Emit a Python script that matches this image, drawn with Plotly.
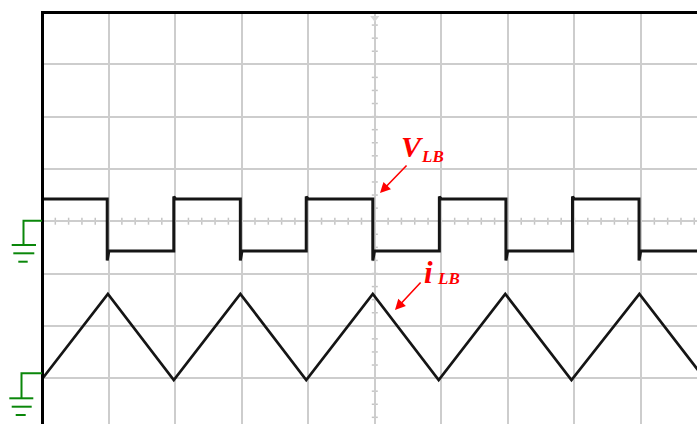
import numpy as np
import plotly.graph_objects as go

# Screen geometry: 10 x 8 divisions, left/top edges of the graticule visible
DIV_X = 66.56          # pixels per horizontal division
DIV_Y = 52.3           # pixels per vertical division
W, H = 697, 424
L, T = 42, 12

# ---- waveform data (time and level in divisions) ----
# V_LB: square wave, edge times and levels
v_fall_t = [0.98, 2.98, 4.97, 6.97, 8.97]
v_rise_t = [1.98, 3.97, 5.97, 7.97]
v_high = 4.425
v_low = 3.43
v_fall_spike = 3.25
v_rise_spike = 4.47

# i_LB: triangle wave, vertex times and levels
i_peak_t = [0.99, 2.98, 4.97, 6.96, 8.975]
i_trough_t = [-0.01, 1.98, 3.97, 5.96, 7.955, 9.97]
i_peak = 2.61
i_trough = 0.964

# build the step path for V_LB
edges = sorted([(t, "f") for t in v_fall_t] + [(t, "r") for t in v_rise_t])
vx, vy = [0.0], [v_high]
for t, kind in edges:
    if kind == "f":
        vx += [t, t, t + 0.025]
        vy += [v_high, v_fall_spike, v_low]
    else:
        vx += [t, t, t + 0.03]
        vy += [v_low, v_rise_spike, v_high]
vx.append(10.0)
vy.append(v_low)

# vertex path for i_LB
pts = sorted([(t, i_peak) for t in i_peak_t] + [(t, i_trough) for t in i_trough_t])
ix = [p[0] for p in pts]
iy = [p[1] for p in pts]

x_range = [0, (W - L) / DIV_X]
y_range = [8 - (H - T) / DIV_Y, 8]

fig = go.Figure()
fig.add_trace(go.Scatter(x=vx, y=vy, mode="lines",
                         line=dict(color="#151515", width=3), hoverinfo="skip"))
fig.add_trace(go.Scatter(x=ix, y=iy, mode="lines",
                         line=dict(color="#151515", width=2.7), hoverinfo="skip"))


def paper_x(px):
    return (px - L) / (W - L)


def paper_y(py):
    return (H - py) / (H - T)


shapes = []
# minor ticks on the centre graticule lines
tick_col = "#c4c4c4"
for xt in np.arange(0, 10.001, 0.2):
    shapes.append(dict(type="line", xref="x", yref="y", x0=xt, x1=xt,
                       y0=4 - 3.5 / DIV_Y, y1=4 + 3.5 / DIV_Y,
                       line=dict(color=tick_col, width=1.5), layer="below"))
for yt in np.arange(0, 8.001, 0.25):
    shapes.append(dict(type="line", xref="x", yref="y", y0=yt, y1=yt,
                       x0=5 - 3 / DIV_X, x1=5 + 3 / DIV_X,
                       line=dict(color=tick_col, width=1.5), layer="below"))

# screen frame (left and top edges)
shapes.append(dict(type="path", xref="paper", yref="paper",
                   path=f"M {paper_x(42.5)},0 L {paper_x(42.5)},{paper_y(12.5)} L 1,{paper_y(12.5)}",
                   line=dict(color="black", width=3)))

# ground reference markers
green = "#0a870a"


def ground(y_ref, x_stem, y_base, bars):
    out = [dict(type="path", xref="paper", yref="paper",
                path=f"M {paper_x(L)},{paper_y(y_ref)} L {paper_x(x_stem)},{paper_y(y_ref)} "
                     f"L {paper_x(x_stem)},{paper_y(y_base)}",
                line=dict(color=green, width=2))]
    for (yy, x0, x1) in bars:
        out.append(dict(type="line", xref="paper", yref="paper",
                        x0=paper_x(x0), x1=paper_x(x1), y0=paper_y(yy), y1=paper_y(yy),
                        line=dict(color=green, width=2)))
    return out


shapes += ground(220.7, 23.5, 245, [(245, 11.7, 36), (253.3, 13.3, 34.3), (261.7, 18.3, 27.7)])
shapes += ground(373.3, 21.5, 398.3, [(398.3, 9.3, 33.3), (406.7, 11.7, 31.7), (415, 15.7, 25.7)])

# trigger position marker
fig.add_trace(go.Scatter(x=[5], y=[8 - 6 / DIV_Y], mode="markers",
                         marker=dict(symbol="triangle-down", size=8, color="#d6d6d6"),
                         hoverinfo="skip", cliponaxis=False))

red = "#ff0000"
serif = "Liberation Serif"


def label(text, px, py, size):
    return dict(text=text, x=paper_x(px), y=paper_y(py), xref="paper", yref="paper",
                xanchor="left", yanchor="middle", showarrow=False,
                font=dict(family=serif, size=size, color=red, style="italic", weight="bold"))


def arrow(tip_px, tip_py, tail_px, tail_py):
    return dict(text="", x=paper_x(tip_px), y=paper_y(tip_py), xref="paper", yref="paper",
                ax=tail_px - tip_px, ay=tail_py - tip_py, showarrow=True,
                arrowhead=2, arrowsize=1.3, arrowwidth=1.6, arrowcolor=red, standoff=0)


annotations = [
    label("V", 399, 146, 30),
    label("LB", 419, 157, 17),
    arrow(380, 193, 408, 164),
    label("i", 422, 272, 31),
    label("LB", 435, 278, 17),
    arrow(395, 310, 422, 281),
]

fig.update_layout(
    width=W, height=H,
    margin=dict(l=L, r=0, t=T, b=0),
    paper_bgcolor="white", plot_bgcolor="white",
    showlegend=False,
    shapes=shapes, annotations=annotations,
    xaxis=dict(range=x_range, dtick=1, tick0=0, showgrid=True, gridcolor="#cdcdcd",
               gridwidth=2, zeroline=False, showticklabels=False, ticks="",
               showline=False),
    yaxis=dict(range=y_range, dtick=1, tick0=0, showgrid=True, gridcolor="#cdcdcd",
               gridwidth=2, zeroline=False, showticklabels=False, ticks="",
               showline=False),
)

fig.write_html("out.html")
